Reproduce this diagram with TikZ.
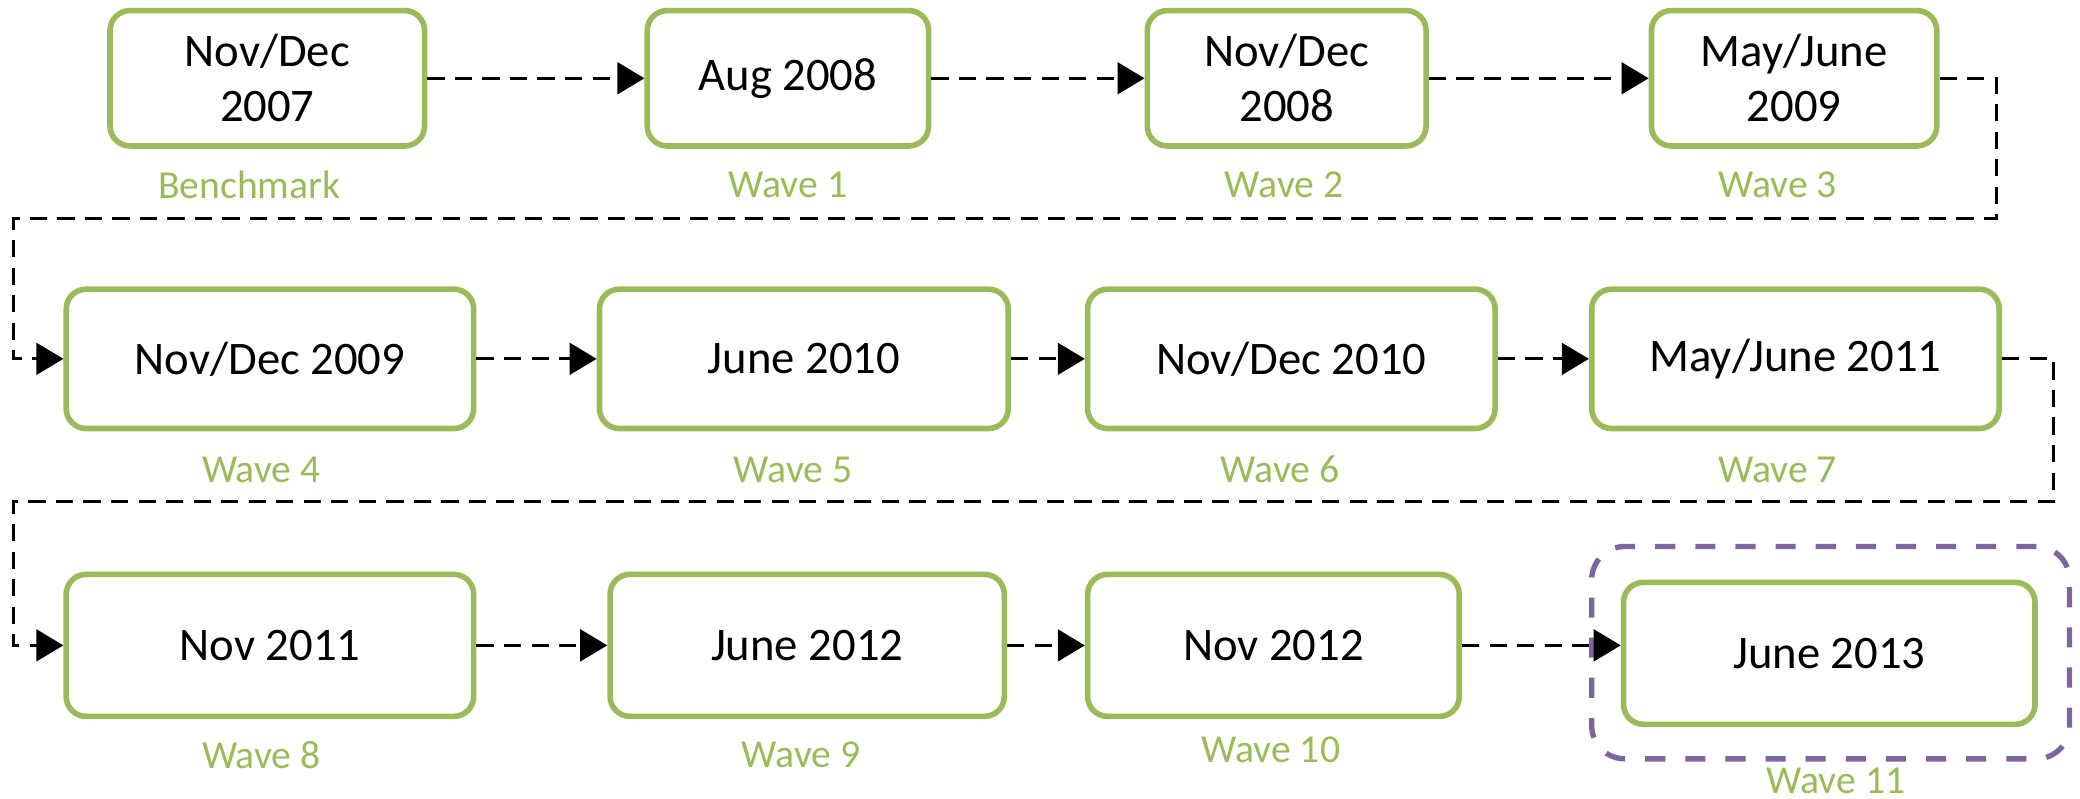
\documentclass[tikz,border=0pt]{standalone}
\usepackage{fontspec}
\setmainfont{Carlito}
\usetikzlibrary{arrows.meta}
\definecolor{wgreen}{HTML}{9BBB59}
\definecolor{wpurple}{HTML}{8064A2}
\tikzset{
  wbox/.style={draw=wgreen, line width=1.2pt, rounded corners=0.15cm, fill=white,
    align=center, inner sep=0pt, font=\fontsize{10}{11.8}\selectfont, text=black},
  wlab/.style={text=wgreen, inner sep=0pt, font=\fontsize{8.5}{10}\selectfont},
  conn/.style={draw=black, line width=0.6pt, dash pattern=on 3.7pt off 2.2pt,
    -{Triangle[length=5.8pt,width=6.8pt]}},
}
\begin{document}
\begin{tikzpicture}[x=0.01cm, y=-0.01cm]
\useasboundingbox (0,0) rectangle (1568,602);
% row 1
\node[wbox, minimum width=2.37cm, minimum height=1.02cm] (A) at (201.5,59) {Nov/Dec\\2007};
\node[wbox, minimum width=2.12cm, minimum height=1.02cm] (B) at (594,59) {Aug 2008};
\node[wbox, minimum width=2.10cm, minimum height=1.02cm] (C) at (970,59) {Nov/Dec\\2008};
\node[wbox, minimum width=2.15cm, minimum height=1.02cm] (D) at (1352.5,59) {May/June\\2009};
\node[wlab] (lA) at (188,139) {Benchmark};
\node[wlab] (lB) at (594,139) {Wave 1};
\node[wlab] (lC) at (968,139) {Wave 2};
\node[wlab] (lD) at (1340,139) {Wave 3};
% row 2
\node[wbox, minimum width=3.07cm, minimum height=1.05cm] (E) at (203.5,270.5) {Nov/Dec 2009};
\node[wbox, minimum width=3.08cm, minimum height=1.05cm] (F) at (606,270.5) {June 2010};
\node[wbox, minimum width=3.07cm, minimum height=1.05cm] (G) at (973.5,270.5) {Nov/Dec 2010};
\node[wbox, minimum width=3.07cm, minimum height=1.05cm] (H) at (1353.5,270.5) {May/June 2011};
\node[wlab] (lE) at (197,354) {Wave 4};
\node[wlab] (lF) at (598,354) {Wave 5};
\node[wlab] (lG) at (965,354) {Wave 6};
\node[wlab] (lH) at (1340,354) {Wave 7};
% row 3
\node[wbox, minimum width=3.07cm, minimum height=1.07cm] (I) at (203.5,486.5) {Nov 2011};
\node[wbox, minimum width=2.97cm, minimum height=1.07cm] (J) at (608.5,486.5) {June 2012};
\node[wbox, minimum width=2.80cm, minimum height=1.07cm] (K) at (960,486.5) {Nov 2012};
\node[wbox, minimum width=3.10cm, minimum height=1.07cm] (L) at (1379,492.5) {June 2013};
\node[draw=wpurple, line width=1.15pt, dash pattern=on 4.3pt off 4.3pt, rounded corners=0.25cm,
  minimum width=3.60cm, minimum height=1.60cm, inner sep=0pt] (P) at (1380,492) {};
\node[wlab] (lI) at (197,569) {Wave 8};
\node[wlab] (lJ) at (604,569) {Wave 9};
\node[wlab] (lK) at (958,565) {Wave 10};
\node[wlab] (lL) at (1384,589) {Wave 11};
% connectors
\coordinate (t1) at (1505,165);
\coordinate (t2) at (10,165);
\coordinate (t3) at (1548,378);
\coordinate (t4) at (10,378);
\draw[conn] (A) -- (B);
\draw[conn] (B) -- (C);
\draw[conn] (C) -- (D);
\draw[conn] (D.east) -| (t1) -- (t2) |- (E.west);
\draw[conn] (E) -- (F);
\draw[conn] (F) -- (G);
\draw[conn] (G) -- (H);
\draw[conn] (H.east) -| (t3) -- (t4) |- (I.west);
\draw[conn] (I) -- (J);
\draw[conn] (J) -- (K);
\draw[conn] (K.east) -- (K.east -| L.west);
\end{tikzpicture}
\end{document}
